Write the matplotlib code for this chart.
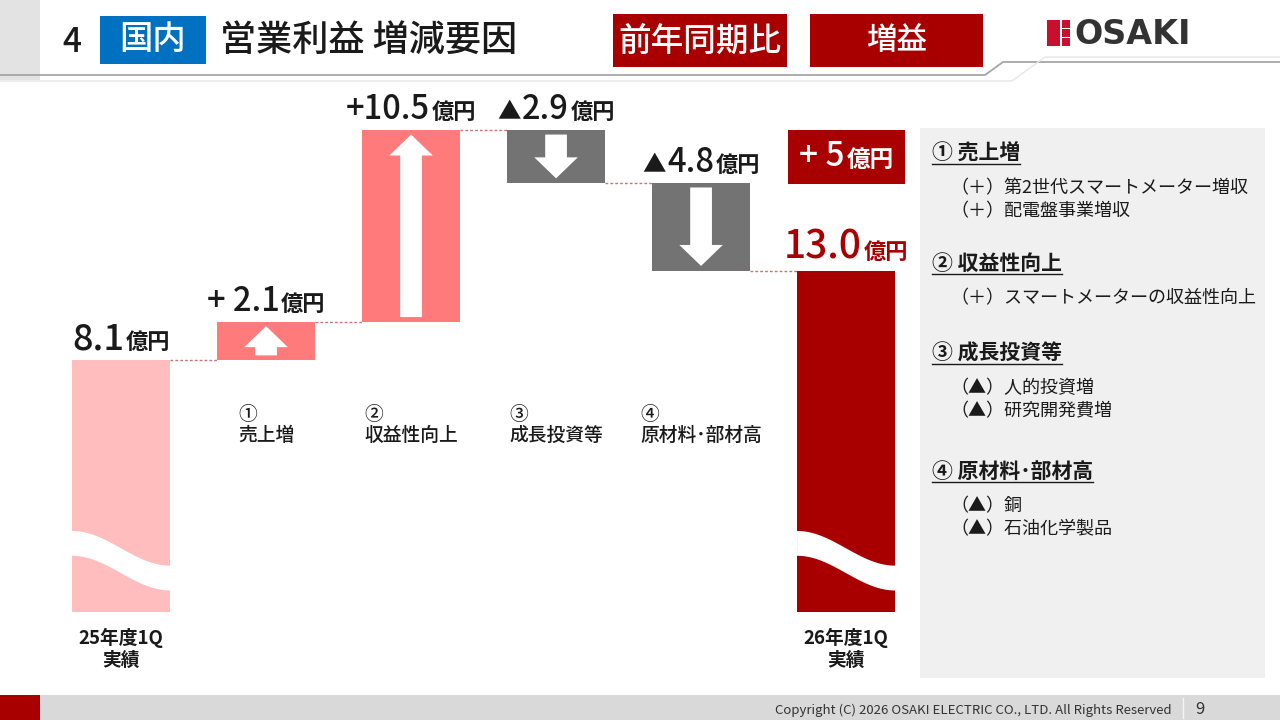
import numpy as np
import matplotlib
matplotlib.use('Agg')
import matplotlib.pyplot as plt
from matplotlib.patches import Rectangle, FancyArrow, Polygon
from matplotlib.offsetbox import TextArea, HPacker, AnnotationBbox

plt.rcParams['font.family'] = ['Noto Sans CJK JP', 'DejaVu Sans']

# chart data (億円)
categories = ['25年度1Q\n実績', '①\n売上増', '②\n収益性向上', '③\n成長投資等',
              '④\n原材料･部材高', '26年度1Q\n実績']
start_value = 8.1
changes = [2.1, 10.5, -2.9, -4.8]
end_value = 13.0
change_labels = ['+ 2.1', '+10.5', '▲2.9', '▲4.8']
total_change = '+ 5'
unit = '億円'

factor_titles = ['① 売上増', '② 収益性向上', '③ 成長投資等', '④ 原材料･部材高']
factor_items = [
    ['（＋）第2世代スマートメーター増収', '（＋）配電盤事業増収'],
    ['（＋）スマートメーターの収益性向上'],
    ['（▲）人的投資増', '（▲）研究開発費増'],
    ['（▲）銅', '（▲）石油化学製品'],
]

DARK_RED = '#A80000'
C_BASE = '#FFBDBD'
C_UP = '#FF7B7B'
C_DOWN = '#737373'
INK = '#1a1a1a'

fig = plt.figure(figsize=(12.8, 7.2), dpi=100)

# background / slide layer in pixel coords
bg = fig.add_axes([0, 0, 1, 1])
bg.set_xlim(0, 1280)
bg.set_ylim(720, 0)
bg.axis('off')

# header
bg.add_patch(Rectangle((0, 0), 40, 80, color='#E3E3E3', lw=0))
bg.plot([0, 985, 1003, 1280], [75, 75, 62, 62], color='#A6A6A6', lw=1.3)
bg.plot([0, 1012, 1045, 1280], [81, 81, 57, 57], color='#E6E6E6', lw=1.0)
bg.text(62, 42, '4', fontsize=24, va='center', ha='left', color=INK, fontweight='medium')
bg.add_patch(Rectangle((100, 16), 106, 48, color='#0070C0', lw=0))
bg.text(153, 40, '国内', fontsize=24, va='center', ha='center', color='white',
        fontweight='medium')
bg.text(220, 41, '営業利益 増減要因', fontsize=26, va='center', ha='left', color=INK,
        fontweight='medium')
bg.add_patch(Rectangle((613, 14), 174, 53, color=DARK_RED, lw=0))
bg.text(700, 41, '前年同期比', fontsize=23.5, va='center', ha='center', color='white',
        fontweight='medium')
bg.add_patch(Rectangle((810, 14), 173, 53, color=DARK_RED, lw=0))
bg.text(897, 41, '増益', fontsize=22, va='center', ha='center', color='white',
        fontweight='medium')

# logo
bg.add_patch(Rectangle((1047, 20), 13, 26, color='#C8102E', lw=0))
for y0 in (20, 29, 38):
    bg.add_patch(Rectangle((1062, y0), 8, 7.5, color='#C8102E', lw=0))
bg.text(1074, 34, 'OSAKI', fontsize=24, va='center', ha='left', color='#333333',
        family='DejaVu Sans', fontweight='bold')

# right-side factor panel
bg.add_patch(Rectangle((920, 128), 345, 550, color='#F0F0F0', lw=0))
head_y = [153, 263, 353, 471]
head_texts = []
for title, items, hy in zip(factor_titles, factor_items, head_y):
    t = bg.text(932, hy, title, fontsize=15, fontweight='bold', va='center',
                ha='left', color=INK)
    head_texts.append((t, hy))
    for k, item in enumerate(items):
        bg.text(950, hy + 35 + 23 * k, item, fontsize=13, va='center', ha='left',
                color=INK)

# footer
bg.add_patch(Rectangle((0, 695), 1280, 25, color='#D9D9D9', lw=0))
bg.add_patch(Rectangle((0, 695), 40, 25, color=DARK_RED, lw=0))
bg.text(1172, 710, 'Copyright (C) 2026 OSAKI ELECTRIC CO., LTD. All Rights Reserved',
        fontsize=9.5, ha='right', va='center', color='#333333')
bg.plot([1183, 1183], [698, 718], color='#F5F5F5', lw=1)
bg.text(1200, 709, '9', fontsize=12, ha='center', va='center', color='#333333')

# total change box
bg.add_patch(Rectangle((788, 130), 117, 54, color=DARK_RED, lw=0))

# waterfall axes
ax = fig.add_axes([40 / 1280, 108 / 720, 870 / 1280, 522 / 720])
ax.set_xlim(-0.559, 5.441)
ax.set_ylim(-5.71, 22.89)
ax.axis('off')
ax.patch.set_alpha(0)

floor = ax.get_ylim()[0]
w = 0.676
x = np.arange(len(categories))

# running totals
levels = [start_value]
for c in changes:
    levels.append(levels[-1] + c)

ax.bar(x[0], start_value - floor, bottom=floor, width=w, color=C_BASE, zorder=2)
ax.bar(x[-1], end_value - floor, bottom=floor, width=w, color=DARK_RED, zorder=2)
for i, c in enumerate(changes):
    lo = min(levels[i], levels[i + 1])
    ax.bar(x[i + 1], abs(c), bottom=lo, width=w,
           color=C_UP if c > 0 else C_DOWN, zorder=2)
    m = 0.25
    length = abs(c) - 2 * m
    if c > 0:
        arr = FancyArrow(x[i + 1], lo + m, 0, length, width=0.15, head_width=0.30,
                         head_length=1.15, length_includes_head=True, color='white',
                         lw=0, zorder=3)
    else:
        arr = FancyArrow(x[i + 1], lo + abs(c) - m, 0, -length, width=0.15,
                         head_width=0.30, head_length=1.15, length_includes_head=True,
                         color='white', lw=0, zorder=3)
    ax.add_patch(arr)

# dotted connectors
for i in range(len(levels)):
    ax.plot([x[i] + w / 2, x[i + 1] - w / 2], [levels[i], levels[i]],
            color='#C07878', lw=1, ls=(0, (2, 1.5)), zorder=1)

# break waves on the base bars
t = np.linspace(0, 1, 80)
for xi in (x[0], x[-1]):
    xs = xi - w / 2 + t * w
    yc = -1.95 + (-3.85 + 1.95) * (1 - np.cos(np.pi * t)) / 2
    pts = np.concatenate([np.column_stack([xs, yc + 0.68]),
                          np.column_stack([xs[::-1], (yc - 0.68)[::-1]])])
    ax.add_patch(Polygon(pts, closed=True, color='white', lw=0, zorder=3))


def label_box(num, size, color, usize=16):
    parts = []
    if num.startswith('▲'):
        parts.append(TextArea('▲', textprops=dict(size=size * 0.72, color=color,
                                                   fontweight='medium')))
        num = num[1:]
    parts.append(TextArea(num, textprops=dict(size=size, color=color,
                                              fontweight='medium')))
    parts.append(TextArea(unit, textprops=dict(size=usize, color=color,
                                               fontweight='bold')))
    return HPacker(children=parts, align='baseline', pad=0, sep=1)


def value_label(xv, yv, num, size, color=INK, usize=16, dy=2):
    ab = AnnotationBbox(label_box(num, size, color, usize), (xv, yv), xybox=(0, dy),
                        xycoords='data', boxcoords='offset points',
                        box_alignment=(0.5, 0), frameon=False, pad=0)
    ax.add_artist(ab)


value_label(x[0], start_value, f'{start_value:.1f}', 26)
for i, lab in enumerate(change_labels):
    value_label(x[i + 1], max(levels[i], levels[i + 1]), lab, 23.5)
value_label(x[-1], end_value, f'{end_value:.1f}', 28, color=DARK_RED)

# total change label inside box
ax.add_artist(AnnotationBbox(label_box(total_change, 24, 'white', 17), (846.5, 157),
                             xycoords=bg.transData, box_alignment=(0.5, 0.5),
                             frameon=False, pad=0))

# category labels
for i, lab in enumerate(categories):
    if i in (0, len(categories) - 1):
        ax.text(x[i], -0.03, lab, transform=ax.get_xaxis_transform(), ha='center',
                va='top', fontsize=13.5, fontweight='bold', linespacing=1.2,
                color=INK)
    else:
        ax.text(x[i], 0.397, lab, transform=ax.get_xaxis_transform(), ha='center',
                va='top', fontsize=13.5, fontweight='medium', multialignment='left',
                linespacing=1.15, color=INK)

# underline panel headings
fig.canvas.draw()
r = fig.canvas.get_renderer()
inv = bg.transData.inverted()
for tx, hy in head_texts:
    bb = tx.get_window_extent(renderer=r)
    x0, _ = inv.transform((bb.x0, bb.y0))
    x1, _ = inv.transform((bb.x1, bb.y0))
    bg.plot([x0, x1], [hy + 11, hy + 11], color=INK, lw=1)

fig.savefig('out.png', dpi=100)
